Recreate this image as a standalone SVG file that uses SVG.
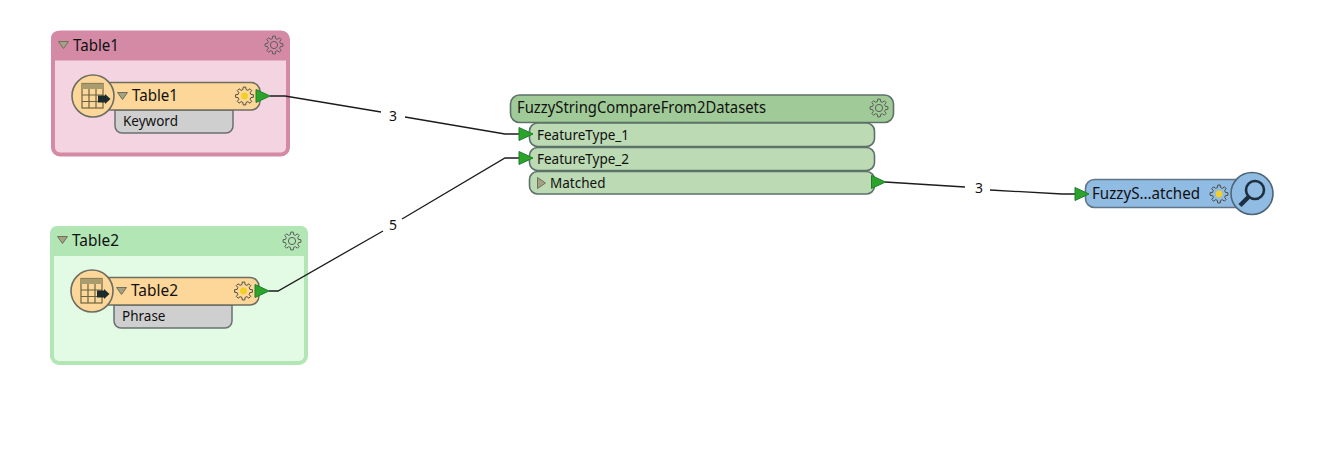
<svg xmlns="http://www.w3.org/2000/svg" xmlns:xlink="http://www.w3.org/1999/xlink" width="1325" height="459" viewBox="0 0 1325 459">
<style>
text{font-family:"Noto Sans","Open Sans","DejaVu Sans",sans-serif;fill:#111}
.h{font-size:16px}
.p{font-size:13.5px}
.c{font-size:14px}
.line{fill:none;stroke:#1c1c1c;stroke-width:1.3}
.port{fill:#2ca42c;stroke:#1f7f2a;stroke-width:1}
.gear{fill:none;stroke:#5c5c5c;stroke-width:1;stroke-linejoin:round}
.feat{fill:#fdd799;stroke:#6d6d62;stroke-width:1.5}
.attr{fill:#cfcfcf;stroke:#6a7070;stroke-width:1.5}
.tf{fill:#bcdab4;stroke:#5c7268;stroke-width:1.6}
.tri{fill:#a3a384;stroke:#6f6f5c;stroke-width:1}
</style>
<defs>
<g id="gear">
<path class="gear" d="M8.91-1.25 8.91 1.25 6.4 1.6 5.66 3.4 7.19 5.42 5.42 7.19 3.4 5.66 1.6 6.4 1.25 8.91-1.25 8.91-1.6 6.4-3.4 5.66-5.42 7.19-7.19 5.42-5.66 3.4-6.4 1.6-8.91 1.25-8.91-1.25-6.4-1.6-5.66-3.4-7.19-5.42-5.42-7.19-3.4-5.66-1.6-6.4-1.25-8.91 1.25-8.91 1.6-6.4 3.4-5.66 5.42-7.19 7.19-5.42 5.66-3.4 6.4-1.6Z"/>
<circle class="gear" r="3.6"/>
</g>
<g id="sun">
<path d="M8.91-1.25 8.91 1.25 6.4 1.6 5.66 3.4 7.19 5.42 5.42 7.19 3.4 5.66 1.6 6.4 1.25 8.91-1.25 8.91-1.6 6.4-3.4 5.66-5.42 7.19-7.19 5.42-5.66 3.4-6.4 1.6-8.91 1.25-8.91-1.25-6.4-1.6-5.66-3.4-7.19-5.42-5.42-7.19-3.4-5.66-1.6-6.4-1.25-8.91 1.25-8.91 1.6-6.4 3.4-5.66 5.42-7.19 7.19-5.42 5.66-3.4 6.4-1.6Z" fill="none" stroke="#4d4d40" stroke-width="1" stroke-linejoin="round"/>
<circle r="3.400" fill="#f2cf24"/>
</g>
<path id="down" class="tri" d="M-5-3.500H5L0 3.500Z"/>
<path id="arrow" class="port" d="M0-6.500 14 0 0 6.500Z"/>
<g id="reader">
<circle r="21" fill="#fdd799" stroke="#6d6d62" stroke-width="1.600"/>
<rect x="-11" y="-12.500" width="21" height="24.500" fill="#fdd799" stroke="#6b6443" stroke-width="1.200"/>
<rect x="-11" y="-12.500" width="21" height="5.500" fill="#a99d70"/>
<path d="M-4-7V12M3-7V12M-11-1H10M-11 5.500H10" fill="none" stroke="#6b6443" stroke-width="1.200"/>
<path d="M5-.5H12V-2L17.500 3 12 8V6.500H5Z" fill="#1b2b2b"/>
</g>
</defs>

<g id="bookmark-table1">
<rect x="53" y="32.500" width="235" height="122" rx="7" fill="#f4d4e0" stroke="#d48aa5" stroke-width="4"/>
<path d="M51 60.500V38a7 7 0 0 1 7-7H282a7 7 0 0 1 7 7V60.500Z" fill="#d48aa5"/>
<use xlink:href="#down" href="#down" x="63.500" y="45"/>
<text class="h" x="73" y="51" textLength="46" lengthAdjust="spacingAndGlyphs">Table1</text>
<use xlink:href="#gear" href="#gear" x="274" y="45"/>
</g>
<g id="bookmark-table2">
<rect x="52" y="228" width="254" height="135" rx="7" fill="#e3fbe4" stroke="#b2e6b4" stroke-width="4"/>
<path d="M50 256V233a7 7 0 0 1 7-7H301a7 7 0 0 1 7 7V256Z" fill="#b2e6b4"/>
<use xlink:href="#down" href="#down" x="62.500" y="240"/>
<text class="h" x="72" y="246" textLength="47" lengthAdjust="spacingAndGlyphs">Table2</text>
<use xlink:href="#gear" href="#gear" x="292" y="241"/>
</g>

<g id="connectors">
<path class="line" d="M270 96H285L381 112M405 117 505 134H519"/>
<path class="line" d="M269 291H278L383 231M402 219 505 158H519"/>
<path class="line" d="M885 182 965 187M990 190 1062 194H1075"/>
</g>

<g id="table1">
<path class="attr" d="M115 110H233V126a7 7 0 0 1-7 7H122a7 7 0 0 1-7-7Z"/>
<text class="p" x="123" y="126">Keyword</text>
<rect class="feat" x="100" y="82.500" width="160" height="27.500" rx="9"/>
<use xlink:href="#reader" href="#reader" x="93" y="96"/>
<use xlink:href="#down" href="#down" x="122.500" y="96"/>
<text class="h" x="132" y="101" textLength="46" lengthAdjust="spacingAndGlyphs">Table1</text>
<use xlink:href="#sun" href="#sun" x="244.500" y="96"/>
<use xlink:href="#arrow" href="#arrow" x="256" y="96"/>
</g>

<g id="table2">
<path class="attr" d="M114 305H232V321a7 7 0 0 1-7 7H121a7 7 0 0 1-7-7Z"/>
<text class="p" x="122" y="321">Phrase</text>
<rect class="feat" x="99" y="277.500" width="160" height="27.500" rx="9"/>
<use xlink:href="#reader" href="#reader" x="92" y="291"/>
<use xlink:href="#down" href="#down" x="121.500" y="291"/>
<text class="h" x="131" y="296" textLength="47" lengthAdjust="spacingAndGlyphs">Table2</text>
<use xlink:href="#sun" href="#sun" x="243.500" y="291"/>
<use xlink:href="#arrow" href="#arrow" x="255" y="291"/>
</g>

<g id="transformer">
<rect x="510.500" y="95" width="383" height="27.500" rx="9" fill="#a0cb98" stroke="#5c7268" stroke-width="1.600"/>
<text class="h" x="517" y="113" textLength="249" lengthAdjust="spacingAndGlyphs">FuzzyStringCompareFrom2Datasets</text>
<use xlink:href="#gear" href="#gear" x="879" y="108"/>
<rect class="tf" x="529.500" y="123" width="345" height="23.500" rx="8"/>
<rect class="tf" x="529.500" y="147.500" width="345" height="23" rx="8"/>
<rect class="tf" x="529.500" y="171.500" width="345" height="22.500" rx="8"/>
<text class="p" x="537" y="139.500">FeatureType_1</text>
<text class="p" x="537" y="163.500">FeatureType_2</text>
<path class="tri" d="M537.500 177.500 545.500 183 537.500 188.500Z"/>
<text class="p" x="550" y="188">Matched</text>
<use xlink:href="#arrow" href="#arrow" x="519" y="134"/>
<use xlink:href="#arrow" href="#arrow" x="519" y="158"/>
<use xlink:href="#arrow" href="#arrow" x="871.500" y="182"/>
</g>

<g id="inspector">
<rect x="1085.500" y="179.500" width="160" height="28" rx="9" fill="#90bbe2" stroke="#5f7688" stroke-width="1.600"/>
<text class="h" x="1092" y="199" textLength="108" lengthAdjust="spacingAndGlyphs">FuzzyS...atched</text>
<use xlink:href="#sun" href="#sun" x="1219" y="194"/>
<use xlink:href="#arrow" href="#arrow" x="1075" y="194"/>
<circle cx="1252" cy="193.500" r="21" fill="#90bbe2" stroke="#4f6577" stroke-width="1.600"/>
<circle cx="1255" cy="190" r="9" fill="none" stroke="#1e3040" stroke-width="2.600"/>
<path d="M1248.500 197 1240 205.500" stroke="#1e3040" stroke-width="4.500" fill="none"/>
</g>

<g id="connector-labels">
<text class="c" x="393" y="121" text-anchor="middle">3</text>
<text class="c" x="393" y="230" text-anchor="middle">5</text>
<text class="c" x="979" y="193" text-anchor="middle">3</text>
</g>
</svg>
